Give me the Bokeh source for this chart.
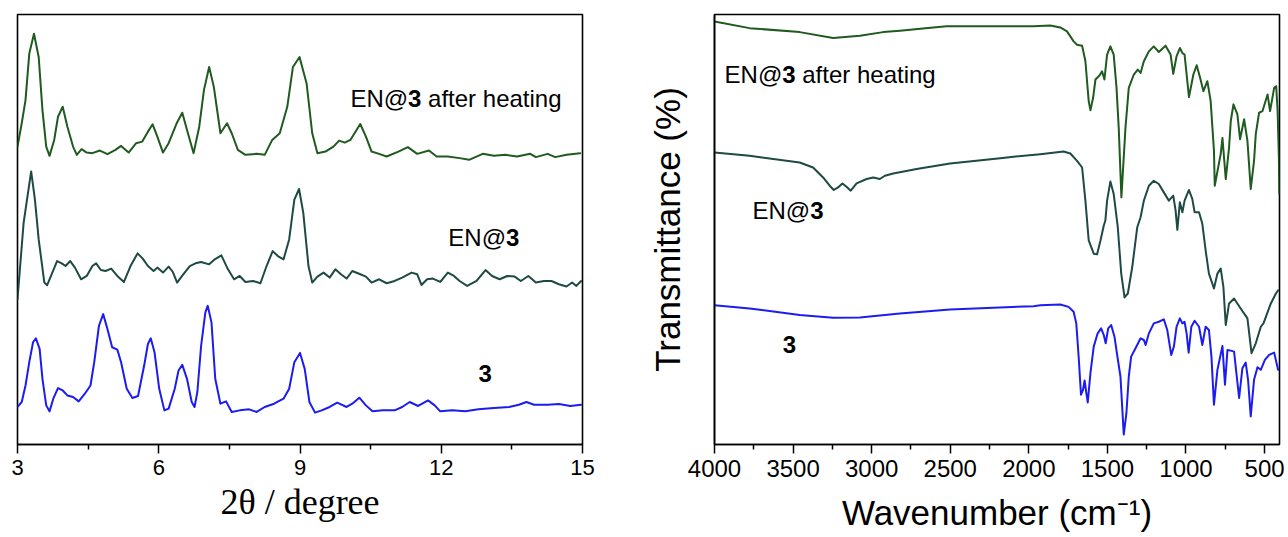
from bokeh.plotting import figure
from bokeh.layouts import row
from bokeh.models import Range1d, FixedTicker
from bokeh.core.properties import value
from bokeh.embed import file_html
from bokeh.resources import INLINE

# ---------------- PXRD patterns (stacked, arbitrary intensity units) ----------------
pxrd_heated_2theta = [3.00, 3.09, 3.17, 3.25, 3.35, 3.45, 3.53, 3.61, 3.68, 3.78, 3.86, 3.96, 4.06, 4.18,
                      4.26, 4.36, 4.47, 4.59, 4.75, 4.91, 5.08, 5.20, 5.36, 5.52, 5.65, 5.77, 5.87, 5.97,
                      6.09, 6.21, 6.38, 6.50, 6.62, 6.74, 6.86, 6.96, 7.07, 7.17, 7.31, 7.45, 7.55, 7.68,
                      7.84, 8.08, 8.25, 8.41, 8.57, 8.73, 8.85, 8.99, 9.14, 9.26, 9.37, 9.54, 9.71, 9.83,
                      9.95, 10.07, 10.28, 10.40, 10.52, 10.68, 10.84, 11.09, 11.29, 11.49, 11.74, 11.90,
                      12.14, 12.39, 12.59, 12.88, 13.12, 13.36, 13.61, 13.89, 14.01, 14.26, 14.42, 14.66,
                      14.95]
pxrd_heated_int = [299.3, 322.7, 346, 392.7, 412.7, 389.3, 336, 299.3, 290, 306, 329.3, 339.3, 319.3,
                   299.3, 291, 296.7, 293.3, 292.7, 295.3, 291.7, 296, 300, 293.3, 302.7, 304.3, 314.3,
                   321.7, 309.3, 293.3, 302.7, 322.7, 333.3, 312.7, 292.7, 319.3, 356, 379.3, 359.3,
                   312.7, 322.7, 312.7, 296, 291, 292, 291, 306, 312.7, 339.3, 379.3, 389.3, 362.7,
                   312.7, 292.7, 294.3, 299.3, 305.3, 303.3, 306, 322, 309.3, 294.3, 292, 289.3, 294.3,
                   298.7, 292, 295.3, 289.3, 289.3, 287.7, 286, 292, 290, 291, 289.3, 292, 288.7, 292,
                   288.7, 291, 292.7]

pxrd_en_2theta = [3.00, 3.13, 3.29, 3.37, 3.45, 3.57, 3.63, 3.74, 3.84, 3.94, 4.02, 4.12, 4.22, 4.35,
                  4.47, 4.59, 4.67, 4.77, 4.87, 4.99, 5.12, 5.26, 5.40, 5.55, 5.66, 5.77, 5.89, 5.97,
                  6.09, 6.21, 6.30, 6.39, 6.52, 6.66, 6.78, 6.90, 7.07, 7.19, 7.33, 7.47, 7.60, 7.72,
                  7.84, 8.00, 8.16, 8.29, 8.42, 8.53, 8.65, 8.77, 8.88, 8.98, 9.07, 9.18, 9.26, 9.37,
                  9.50, 9.63, 9.75, 9.87, 9.99, 10.11, 10.28, 10.40, 10.52, 10.68, 10.84, 11.01, 11.17,
                  11.37, 11.49, 11.58, 11.70, 11.82, 11.98, 12.14, 12.27, 12.39, 12.55, 12.75, 12.94,
                  13.08, 13.24, 13.40, 13.56, 13.69, 13.85, 14.01, 14.18, 14.34, 14.50, 14.66, 14.78,
                  14.87, 14.97]
pxrd_en_int = [146, 222.7, 274.3, 246, 206, 162.7, 160, 172.7, 184.3, 182, 179.3, 184.3, 177.7, 166,
               169.3, 179.3, 182, 175.3, 174.3, 176.7, 169.3, 163.3, 179.3, 192, 186.7, 179.3, 174.3,
               177.7, 172.7, 178.7, 173.3, 162.7, 171, 179.3, 182, 183.3, 181, 186, 190, 176, 166,
               169.3, 163.3, 164.3, 162, 179.3, 194.3, 189.3, 186, 206, 246, 256.7, 232.7, 179.3,
               162.7, 168.7, 172.7, 167.7, 176, 171, 166.7, 174.3, 171, 168.7, 162.7, 166, 162, 164.3,
               167.7, 172.7, 171, 160.3, 166, 166.7, 163.3, 172.7, 169.3, 164.3, 159.3, 164.3, 175.3,
               169.3, 166, 169.3, 168.7, 164.3, 169.3, 162.7, 164.3, 164.3, 161, 158.7, 162.7, 159.3,
               164.3]

pxrd_3_2theta = [3.00, 3.09, 3.17, 3.25, 3.33, 3.39, 3.47, 3.53, 3.61, 3.68, 3.76, 3.86, 3.96, 4.06,
                 4.18, 4.30, 4.43, 4.55, 4.63, 4.73, 4.82, 4.91, 5.01, 5.12, 5.20, 5.32, 5.44, 5.56,
                 5.69, 5.77, 5.83, 5.91, 6.01, 6.12, 6.21, 6.34, 6.42, 6.50, 6.60, 6.70, 6.76, 6.82,
                 6.90, 6.99, 7.04, 7.12, 7.20, 7.31, 7.43, 7.55, 7.72, 7.92, 8.08, 8.25, 8.45, 8.65,
                 8.77, 8.88, 9.00, 9.10, 9.20, 9.32, 9.46, 9.63, 9.79, 9.99, 10.11, 10.26, 10.40, 10.54,
                 10.76, 11.01, 11.17, 11.33, 11.51, 11.72, 11.86, 11.98, 12.23, 12.51, 12.79, 13.12,
                 13.44, 13.65, 13.81, 13.97, 14.26, 14.50, 14.74, 14.97]
pxrd_3_int = [37.7, 42.7, 59.3, 82.7, 102.7, 106.7, 96, 66, 39.3, 33.3,
              46, 56.7, 54.3, 49.3, 47.7, 43.3, 51, 59.3, 82.7, 119.3,
              131, 116, 97.7, 95.3, 82.7, 56, 46.7, 48.7, 79.3, 101,
              106.7, 92.7, 56, 34.3, 36, 56, 74.3, 80, 66, 42.7,
              37.7, 52.7, 99.3, 132.7, 139.3, 122.7, 66, 41, 43.3, 32.7,
              34.3, 35.3, 32.7, 37.7, 41, 46, 56, 82.7, 92, 76,
              42.7, 32, 34.3, 37.7, 42, 37.7, 41, 47, 39.3, 33.3,
              34.3, 34.3, 37.7, 42.7, 38.7, 44.3, 39.3, 33.3, 34.3, 33.3,
              35.3, 36.7, 37.7, 40, 42.7, 40, 40, 40.7, 38.7, 40]

pxrd_ticks = [3, 6, 9, 12, 15]
pxrd_minor_ticks = [4.5, 7.5, 10.5, 13.5]

# ---------------- IR spectra (stacked transmittance, arbitrary units) ----------------
ir_heated_wn = [4000, 3777, 3458, 3245, 3075, 2927, 2820, 2608, 2522, 1970, 1863, 1800, 1757, 1715,
                1693, 1661, 1640, 1619, 1608, 1591, 1576, 1549, 1534, 1519, 1502, 1481, 1460, 1442,
                1428, 1411, 1385, 1364, 1332, 1307, 1289, 1268, 1236, 1205, 1173, 1130, 1098, 1081,
                1060, 1039, 1023, 1009, 981, 953, 932, 911, 889, 864, 843, 822, 817, 779, 768, 747,
                726, 715, 698, 673, 656, 630, 609, 588, 567, 556, 535, 513, 481, 465, 439, 426, 417,
                409, 406]
ir_heated_t = [425, 418.3, 414.3, 408.3, 410.7, 414.3, 415.7, 419, 420.3, 420.3, 421, 419, 415, 405,
               401.7, 400.7, 385, 345, 335.7, 348.3, 366.7, 371, 375, 366.7, 391.7, 400, 391.7, 358.3,
               318.3, 248.3, 318.3, 358.3, 371.7, 376.7, 373.3, 385, 395, 400, 394.3, 400.7, 391.7,
               372.3, 390, 398.3, 393.3, 391.7, 349, 371.7, 381, 369, 355, 365, 345, 295, 260, 292,
               308, 266.7, 298.3, 325, 341.7, 331.7, 306.7, 326.7, 305, 256.7, 285, 311.7, 333.3, 335,
               351.7, 335, 358.3, 360, 335, 288.3, 252]

ir_en_wn = [4000, 3777, 3458, 3373, 3309, 3267, 3241, 3214, 3186, 3160, 3133, 3096, 3032, 2990, 2948,
            2916, 2863, 2714, 2501, 2182, 1927, 1779, 1736, 1693, 1661, 1640, 1619, 1587, 1566, 1544,
            1523, 1513, 1502, 1481, 1460, 1434, 1412, 1391, 1370, 1342, 1310, 1289, 1268, 1236, 1205,
            1173, 1141, 1109, 1081, 1066, 1055, 1039, 1023, 1009, 981, 960, 945, 917, 896, 875, 854,
            822, 800, 779, 762, 747, 726, 694, 652, 609, 583, 556, 524, 507, 460, 428, 414]
ir_en_t = [293.3, 290, 283.3, 278.3, 268.3, 260, 255.7, 258.3, 262.3, 259, 255, 262.3, 266.7, 268.3,
           266.7, 270, 272.3, 276.7, 282.3, 287.7, 291.7, 294.3, 292.3, 285, 278.3, 245, 205, 191.7,
           191, 205, 220, 225, 245, 264.3, 251.7, 218.3, 171.7, 147.7, 151.7, 178.3, 218.3, 228.3,
           245, 260, 265, 261.7, 253.3, 245, 250, 235, 215.7, 243.3, 233.3, 245, 255.7, 246.7, 233.3,
           233.3, 221.7, 195, 171.7, 156.7, 171.7, 176.7, 158.3, 120, 141.7, 146.7, 136.7, 126.7,
           91.7, 101.7, 118.3, 121.7, 141.7, 151.7, 155]

ir_3_wn = [4000, 3777, 3458, 3245, 3075, 2820, 2501, 1970, 1927, 1800, 1747, 1715, 1698, 1683, 1668,
           1655, 1645, 1634, 1625, 1608, 1587, 1562, 1540, 1523, 1511, 1495, 1476, 1455, 1438, 1417,
           1396, 1379, 1364, 1349, 1321, 1289, 1268, 1257, 1236, 1205, 1173, 1141, 1119, 1094, 1077,
           1060, 1039, 1023, 1009, 996, 983, 966, 945, 917, 896, 875, 854, 838, 822, 800, 768, 752,
           736, 715, 694, 662, 641, 620, 605, 588, 567, 545, 524, 498, 471, 439, 414]
ir_3_t = [140, 136.7, 130, 127.3, 127.7, 131.7, 135.7, 139, 140, 140.7, 138.3, 133.3, 121.7, 88.3, 50,
          55, 64.3, 51.7, 42.3, 71.7, 98.3, 111.7, 116.7, 110, 101.7, 116.7, 120, 108.3, 90, 68.3,
          10, 31.7, 68.3, 88.3, 96.7, 106.7, 105, 100, 111.7, 121.7, 123.3, 125.7, 115, 90, 98.3,
          118.3, 126.7, 121.7, 123.3, 111.7, 92.3, 118.3, 124.3, 118.3, 100, 118.3, 115, 88.3, 40,
          75, 99, 60, 95, 94.3, 93.3, 46.7, 76.7, 82.3, 65, 28.3, 65, 77.7, 75, 85, 90, 92.3, 75]

ir_ticks = [4000, 3500, 3000, 2500, 2000, 1500, 1000, 500]
ir_minor_ticks = [3750, 3250, 2750, 2250, 1750, 1250, 750]

# ---------------- styling ----------------
SANS = "Liberation Sans"
SERIF = "Liberation Serif"
C_HEATED = "#1f5a1f"
C_EN = "#1d4a42"
C_PURE = "#1c1cf0"


def style_panel(p, ticks, minor, tick_font_size):
    p.background_fill_color = "white"
    p.border_fill_color = "white"
    p.outline_line_color = "black"
    p.outline_line_width = 1.6
    p.xgrid.visible = False
    p.ygrid.visible = False
    ax = p.xaxis[0]
    ax.ticker = FixedTicker(ticks=ticks, minor_ticks=minor)
    ax.axis_line_color = "black"
    ax.axis_line_width = 1.6
    ax.major_tick_in = 0
    ax.major_tick_out = 9
    ax.minor_tick_in = 0
    ax.minor_tick_out = 5
    ax.major_tick_line_width = 1.5
    ax.minor_tick_line_width = 1.5
    ax.major_tick_line_color = "black"
    ax.minor_tick_line_color = "black"
    ax.major_label_text_font = SANS
    ax.major_label_text_font_size = tick_font_size
    ax.major_label_text_color = "black"
    ax.major_label_standoff = 6
    ax.axis_label_text_font_style = "normal"
    ax.axis_label_text_color = "black"


def sample_label(p, x, y, size_px, suffix=""):
    """'EN@' in regular weight followed by a bold '3' and an optional suffix."""
    common = dict(text_font=value(SANS), text_font_size=value(f"{size_px}px"),
                  text_baseline="middle", text_align="left", text_color="black")
    w_prefix = 2.404 * size_px
    w_three = 0.556 * size_px
    p.text(x=[x], y=[y], text=["EN@"], **common)
    p.text(x=[x], y=[y], text=["3"], x_offset=w_prefix, text_font_style="bold", **common)
    if suffix:
        p.text(x=[x], y=[y], text=[suffix], x_offset=w_prefix + w_three + 0.278 * size_px, **common)


def bold_three(p, x, y, size_px):
    p.text(x=[x], y=[y], text=["3"], text_font=value(SANS), text_font_size=value(f"{size_px}px"),
           text_font_style="bold", text_baseline="middle", text_align="left", text_color="black")


def trace(p, x, y, color):
    p.line(x, y, line_color=color, line_width=2, line_join="round", line_cap="round")


# ---------------- left panel: PXRD ----------------
p1 = figure(width=606, height=537, output_backend="svg", toolbar_location=None,
            x_range=Range1d(3, 15), y_range=Range1d(0, 432),
            min_border_left=17, min_border_right=24, min_border_top=14, min_border_bottom=91)
style_panel(p1, pxrd_ticks, pxrd_minor_ticks, "22px")
p1.yaxis.visible = False
p1.xaxis.axis_label = "2θ / degree"
p1.xaxis.axis_label_text_font = SERIF
p1.xaxis.axis_label_text_font_size = "36px"
p1.xaxis.axis_label_standoff = 4

trace(p1, pxrd_heated_2theta, pxrd_heated_int, C_HEATED)
trace(p1, pxrd_en_2theta, pxrd_en_int, C_EN)
trace(p1, pxrd_3_2theta, pxrd_3_int, C_PURE)

sample_label(p1, 10.07, 348, 24, "after heating")
sample_label(p1, 12.15, 208, 24)
bold_three(p1, 12.79, 71, 24)

# ---------------- right panel: IR ----------------
p2 = figure(width=682, height=537, output_backend="svg", toolbar_location=None,
            x_range=Range1d(4000, 405), y_range=Range1d(0, 432),
            min_border_left=108, min_border_right=9, min_border_top=12, min_border_bottom=93)
style_panel(p2, ir_ticks, ir_minor_ticks, "24px")
p2.xaxis.axis_label = "Wavenumber (cm⁻¹)"
p2.xaxis.axis_label_text_font = SANS
p2.xaxis.axis_label_text_font_size = "35px"
p2.xaxis.axis_label_standoff = 13

yax = p2.yaxis[0]
yax.ticker = FixedTicker(ticks=[])
yax.axis_line_color = "black"
yax.axis_line_width = 1.6
yax.major_tick_out = 0
yax.minor_tick_out = 0
yax.major_tick_line_color = None
yax.minor_tick_line_color = None
yax.major_label_text_font_size = "0px"
yax.major_label_standoff = 0
yax.axis_label = "Transmittance (%)"
yax.axis_label_text_font = SANS
yax.axis_label_text_font_size = "35px"
yax.axis_label_text_font_style = "normal"
yax.axis_label_text_color = "black"
yax.axis_label_standoff = 28

trace(p2, ir_heated_wn, ir_heated_t, C_HEATED)
trace(p2, ir_en_wn, ir_en_t, C_EN)
trace(p2, ir_3_wn, ir_3_t, C_PURE)

sample_label(p2, 3936, 372, 24, "after heating")
sample_label(p2, 3758, 235, 24)
bold_three(p2, 3566, 100, 24)

layout = row(p1, p2)
open("out.html", "w").write(file_html(layout, INLINE))
